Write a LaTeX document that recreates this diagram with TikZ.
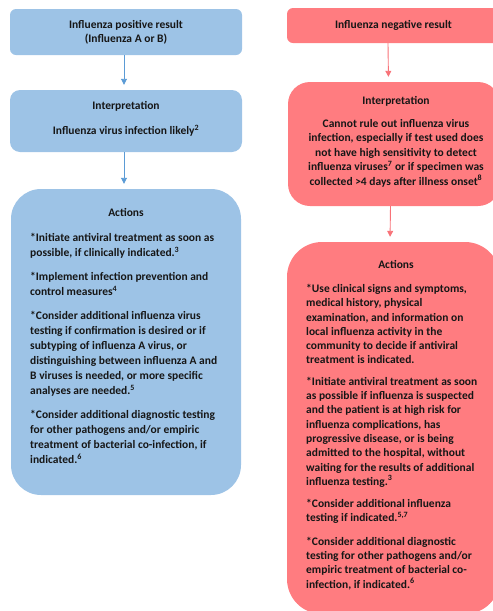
\documentclass[tikz,border=0pt]{standalone}
\usepackage{fontspec}
\setmainfont{Carlito}
\usetikzlibrary{arrows.meta}
\definecolor{cPos}{RGB}{157,195,230}
\definecolor{cNeg}{RGB}{255,124,128}
\definecolor{cPosLn}{RGB}{91,155,213}
\definecolor{cNegLn}{RGB}{248,114,120}
\definecolor{cTxt}{RGB}{22,22,22}

\begin{document}
\begin{tikzpicture}[
  x=1pt, y=-1pt, color=cTxt,
  font=\bfseries\fontsize{11.5}{14}\selectfont,
  posbox/.style ={fill=cPos, draw=none, inner sep=0pt},
  negbox/.style ={fill=cNeg, draw=none, inner sep=0pt},
  posarr/.style ={-{Triangle[length=6pt,width=6pt]}, line width=0.9pt,
                  draw=cPosLn, shorten >=5pt},
  negarr/.style ={-{Triangle[length=6pt,width=6pt]}, line width=0.9pt,
                  draw=cNegLn, shorten >=5pt},
  head/.style   ={anchor=north, inner sep=0pt},
  body/.style   ={anchor=north west, inner sep=0pt, align=left},
]

\useasboundingbox (0,0) rectangle (493,611);
\clip (0,0) rectangle (493,611);

% ----- positive branch --------------------------------------------------
\node[posbox, minimum width=232pt, minimum height=46pt, rounded corners=6pt,
      align=center] (posRes) at (126,32)
      {Influenza positive result\\(Influenza A or B)};
\node[posbox, minimum width=232pt, minimum height=62pt, rounded corners=10pt]
      (posInt) at (126,121) {};
\node[posbox, minimum width=230pt, minimum height=306pt, rounded corners=30pt]
      (posAct) at (126,342) {};

\node[head] (posIntHd) at (126,101) {Interpretation};
\node[head] (posIntTx) at (126,125) {Influenza virus infection likely\textsuperscript{2}};
\node[head] (posActHd) at (126,208) {Actions};
\node[body, font=\bfseries\fontsize{11.5}{15}\selectfont] (posActTx) at (30,233)
      {*Initiate antiviral treatment as soon as\\
       possible, if clinically indicated.\textsuperscript{3}\\[9pt]
       *Implement infection prevention and\\
       control measures\textsuperscript{4}\\[9pt]
       *Consider additional influenza virus\\
       testing if confirmation is desired or if\\
       subtyping of influenza A virus, or\\
       distinguishing between influenza A and\\
       B viruses is needed, or more specific\\
       analyses are needed.\textsuperscript{5}\\[9pt]
       *Consider additional diagnostic testing\\
       for other pathogens and/or empiric\\
       treatment of bacterial co-infection, if\\
       indicated.\textsuperscript{6}};

\draw[posarr] ([xshift=-2pt]posRes.south) -- ([xshift=-2pt]posInt.north);
\draw[posarr] ([xshift=-2pt]posInt.south) -- ([xshift=-2pt]posAct.north);

% ----- negative branch (runs past the right edge) -----------------------
\node[negbox, minimum width=213pt, minimum height=35pt, rounded corners=6pt]
      (negRes) at (393.5,25.5) {Influenza negative result};
\node[negbox, minimum width=212pt, minimum height=124pt, rounded corners=22pt]
      (negInt) at (394,144) {};
\node[negbox, minimum width=213pt, minimum height=372pt, rounded corners=35pt]
      (negAct) at (393.5,428) {};

\node[head] (negIntHd) at (396,96) {Interpretation};
\node[head, align=center, font=\bfseries\fontsize{11.5}{14.5}\selectfont]
      (negIntTx) at (396,119)
      {Cannot rule out influenza virus\\
       infection, especially if test used does\\
       not have high sensitivity to detect\\
       influenza viruses\textsuperscript{7} or if specimen was\\
       collected >4 days after illness onset\textsuperscript{8}};
\node[head] (negActHd) at (396,260) {Actions};
\node[body, font=\bfseries\fontsize{11.5}{14.3}\selectfont] (negActTx) at (306,284)
      {*Use clinical signs and symptoms,\\
       medical history, physical\\
       examination, and information on\\
       local influenza activity in the\\
       community to decide if antiviral\\
       treatment is indicated.\\[7pt]
       *Initiate antiviral treatment as soon\\
       as possible if influenza is suspected\\
       and the patient is at high risk for\\
       influenza complications, has\\
       progressive disease, or is being\\
       admitted to the hospital, without\\
       waiting for the results of additional\\
       influenza testing.\textsuperscript{3}\\[8pt]
       *Consider additional influenza\\
       testing if indicated.\textsuperscript{5,7}\\[9pt]
       *Consider additional diagnostic\\
       testing for other pathogens and/or\\
       empiric treatment of bacterial co-\\
       infection, if indicated.\textsuperscript{6}};

\draw[negarr] ([xshift=-5.5pt]negRes.south) -- ([xshift=-5.5pt]negInt.north);
\draw[negarr] ([xshift=-3.5pt]negInt.south) -- ([xshift=-3.5pt]negAct.north);

\end{tikzpicture}
\end{document}
